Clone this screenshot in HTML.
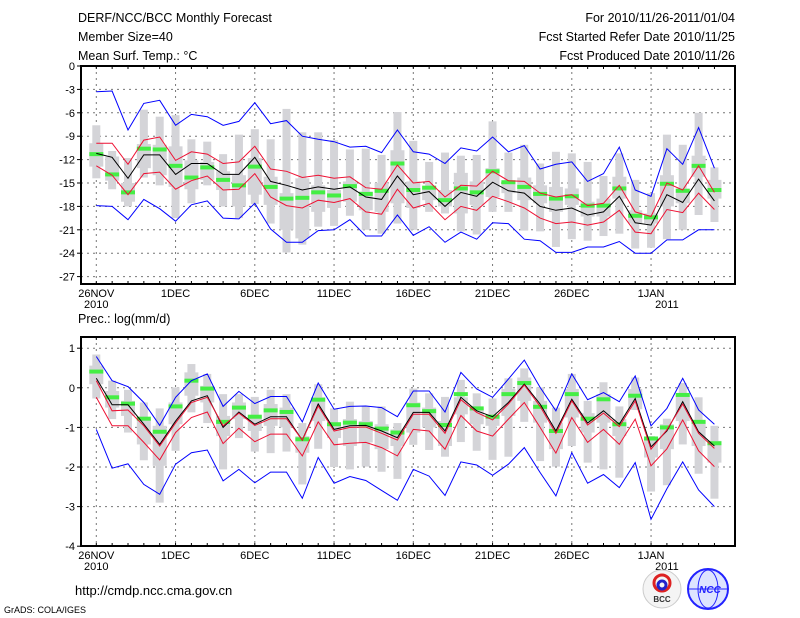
<!DOCTYPE html>
<html><head><meta charset="utf-8"><style>
html,body{margin:0;padding:0;background:#fff;}
svg{display:block;font-family:"Liberation Sans",sans-serif;}
</style></head><body>
<svg id="chart" width="800" height="618" viewBox="0 0 800 618">
<g font-size="12.5" fill="#000">
<text x="78" y="22">DERF/NCC/BCC Monthly Forecast</text>
<text x="78" y="41">Member Size=40</text>
<text x="78" y="60">Mean Surf. Temp.: °C</text>
<text x="735" y="22" text-anchor="end">For 2010/11/26-2011/01/04</text>
<text x="735" y="41" text-anchor="end">Fcst Started Refer Date 2010/11/25</text>
<text x="735" y="60" text-anchor="end">Fcst Produced Date 2010/11/26</text>
<text x="78" y="323">Prec.: log(mm/d)</text>
</g>
<g id="p1"></g>
<g id="p2"></g>
<text x="75" y="595" font-size="13">http://cmdp.ncc.cma.gov.cn</text>
<text x="4" y="613" font-size="9">GrADS: COLA/IGES</text>
<g>
<circle cx="662" cy="589" r="19" fill="#f4f4f4" stroke="#ccc"/>
<circle cx="662" cy="583" r="8" fill="none" stroke="#d22" stroke-width="3"/>
<circle cx="662" cy="585" r="4" fill="none" stroke="#22c" stroke-width="3"/>
<text x="662" y="602" font-size="8" text-anchor="middle" font-weight="bold" fill="#333">BCC</text>
</g>
<g>
<circle cx="708" cy="589" r="20" fill="#dde4ff" stroke="#22f" stroke-width="2"/>
<ellipse cx="708" cy="589" rx="10" ry="19" fill="none" stroke="#22f"/>
<line x1="689" y1="589" x2="727" y2="589" stroke="#22f"/>
<text x="710" y="593" font-size="10" text-anchor="middle" font-style="italic" font-weight="bold" fill="#22f">NCC</text>
</g>
</svg>
<script>
// ---- temperature data (degC), days 0..39 from 26NOV ----
const days = ['26NOV','1DEC','6DEC','11DEC','16DEC','21DEC','26DEC','1JAN'];
const tTicks = [0,-3,-6,-9,-12,-15,-18,-21,-24,-27];
const tBlueHi = [-3.3,-3.2,-8.2,-4.8,-4.4,-7.6,-6.2,-6.5,-7.6,-7.1,-4.7,-7.4,-7.0,-9.0,-9.4,-9.7,-10.4,-10.3,-11.1,-8.2,-11.0,-11.3,-12.5,-10.5,-10.9,-9.1,-11.0,-10.2,-13.2,-12.6,-12.3,-14.8,-13.8,-10.4,-15.9,-16.7,-10.6,-12.6,-7.9,-13.1];
const tRedHi = [-9.9,-9.9,-12.6,-9.5,-9.1,-12.1,-11.0,-11.3,-12.5,-12.3,-10.3,-13.2,-13.5,-14.3,-14.0,-14.4,-14.2,-15.6,-15.8,-12.7,-15.0,-14.8,-16.8,-15.3,-15.4,-13.5,-14.7,-14.8,-16.3,-16.8,-16.5,-17.9,-17.6,-15.3,-18.7,-19.3,-15.0,-15.9,-12.8,-16.2];
const tMean = [-11.2,-11.7,-14.4,-11.4,-11.4,-13.9,-12.5,-12.5,-13.9,-13.9,-11.7,-14.8,-15.3,-15.9,-15.5,-15.8,-15.5,-16.8,-17.1,-14.1,-16.5,-16.1,-18.0,-16.2,-16.7,-14.9,-16.0,-16.3,-18.0,-18.5,-18.2,-19.1,-18.7,-16.7,-20.1,-20.4,-16.5,-17.5,-14.5,-17.3];
const tRedLo = [-12.8,-14.0,-16.5,-13.8,-13.6,-15.8,-14.7,-14.1,-15.9,-15.8,-13.8,-16.8,-17.9,-18.2,-17.2,-17.5,-17.0,-18.7,-19.0,-15.8,-18.2,-17.6,-19.7,-18.0,-18.5,-16.7,-17.4,-18.2,-19.5,-20.2,-20.0,-20.4,-20.0,-18.5,-21.3,-21.5,-18.4,-18.8,-16.3,-18.4];
const tBlueLo = [-17.9,-18.0,-19.7,-17.1,-18.3,-19.9,-17.8,-17.3,-19.5,-19.6,-17.6,-20.9,-22.6,-22.6,-21.1,-21.0,-19.7,-21.8,-21.8,-19.1,-21.7,-20.6,-22.6,-21.3,-22.2,-20.1,-20.2,-22.2,-22.4,-23.9,-23.9,-23.2,-23.2,-22.5,-24.0,-24.0,-22.3,-22.3,-21.0,-21.0];
const tGreen = [-11.3,-13.9,-16.2,-10.6,-10.7,-12.8,-14.3,-13.0,-14.6,-15.3,-12.9,-15.5,-17.0,-16.9,-16.2,-16.6,-15.4,-16.4,-16.0,-12.5,-15.9,-15.6,-17.2,-15.7,-16.2,-13.5,-14.9,-15.5,-16.4,-17.0,-16.7,-17.9,-17.9,-15.7,-19.2,-19.4,-15.1,-16.0,-12.8,-15.9];
const tMax = [-7.6,-10.9,-11.8,-5.6,-6.5,-6.3,-9.4,-9.7,-11.3,-8.8,-8.1,-9.4,-5.5,-8.5,-8.5,-9.5,-10.7,-10.6,-11.4,-5.9,-9.6,-12.3,-11.1,-11.5,-11.4,-7.1,-11.1,-10.1,-12.5,-11.0,-11.2,-12.3,-14.1,-11.2,-14.6,-16.3,-8.8,-10.1,-6.0,-13.0];
const tMin = [-14.4,-15.8,-18.0,-14.3,-15.3,-19.5,-17.6,-15.3,-18.0,-19.5,-17.7,-20.2,-23.9,-22.9,-20.6,-20.5,-19.2,-21.0,-21.5,-20.2,-21.0,-18.7,-18.9,-21.2,-21.6,-18.7,-18.7,-21.1,-21.2,-23.2,-22.2,-22.4,-21.8,-21.5,-23.4,-23.3,-22.2,-21.0,-19.1,-20.0];
const tQ3 = [-9.9,-11.6,-15.0,-10.0,-10.1,-10.3,-12.1,-12.3,-13.5,-14.0,-11.8,-14.2,-16.3,-14.4,-15.3,-15.9,-14.8,-16.1,-15.0,-10.8,-14.8,-15.5,-15.9,-13.7,-14.8,-13.1,-14.8,-14.3,-15.3,-15.5,-15.7,-17.4,-17.0,-14.2,-18.5,-18.9,-14.0,-15.7,-11.5,-14.6];
const tQ1 = [-12.9,-14.7,-17.4,-13.1,-14.0,-15.5,-15.8,-14.6,-15.9,-18.0,-16.5,-17.8,-21.0,-22.1,-18.7,-18.2,-17.4,-18.5,-18.7,-17.6,-18.2,-17.2,-18.0,-18.9,-17.8,-16.8,-16.3,-17.2,-17.6,-18.7,-17.8,-19.3,-19.3,-17.0,-20.2,-20.2,-18.0,-17.6,-14.2,-17.0];
// ---- precipitation data (log mm/d) ----
const pTicks = [1,0,-1,-2,-3,-4];
const pBlueHi = [0.79,0.18,0.03,-0.37,-0.95,-0.24,0.18,0.35,-0.47,-0.09,-0.40,-0.22,-0.22,-0.86,0.12,-0.54,-0.47,-0.46,-0.50,-0.73,-0.08,-0.08,-0.61,0.39,-0.03,-0.24,0.22,0.70,0.01,-0.58,0.35,-0.30,-0.12,-0.35,0.30,-0.96,-0.52,0.24,-0.56,-0.92];
const pMean = [0.24,-0.43,-0.43,-0.92,-1.43,-0.84,-0.33,-0.20,-1.00,-0.61,-0.92,-0.73,-0.73,-1.32,-0.41,-1.05,-0.96,-0.95,-1.09,-1.26,-0.62,-0.62,-1.09,-0.24,-0.58,-0.73,-0.37,0.09,-0.41,-1.09,-0.29,-0.89,-0.58,-0.92,-0.27,-1.49,-1.09,-0.35,-1.11,-1.47];
const pRedHi = [0.18,-0.58,-0.56,-0.96,-1.47,-0.89,-0.37,-0.24,-0.96,-0.64,-0.95,-0.78,-0.78,-1.32,-0.46,-1.09,-1.00,-0.99,-1.15,-1.32,-0.67,-0.67,-1.15,-0.30,-0.62,-0.81,-0.41,0.07,-0.47,-1.15,-0.33,-0.94,-0.64,-0.98,-0.33,-1.55,-1.06,-0.41,-1.15,-1.53];
const pRedLo = [-0.24,-0.96,-0.96,-1.38,-1.82,-1.13,-0.75,-0.61,-1.41,-1.02,-1.36,-1.17,-1.17,-1.72,-0.86,-1.44,-1.40,-1.38,-1.51,-1.72,-1.05,-1.09,-1.55,-0.70,-1.09,-1.22,-0.79,-0.37,-1.00,-1.65,-0.75,-1.38,-1.05,-1.43,-0.79,-1.97,-1.54,-0.81,-1.59,-1.99];
const pBlueLo = [-1.05,-2.03,-1.92,-2.44,-2.69,-1.93,-1.64,-1.57,-2.35,-2.06,-2.40,-2.13,-2.13,-2.79,-1.76,-2.41,-2.24,-2.34,-2.59,-2.84,-2.06,-2.23,-2.72,-1.87,-1.95,-2.21,-1.93,-1.51,-2.14,-2.73,-1.64,-2.41,-2.19,-2.52,-1.89,-3.32,-2.55,-1.87,-2.58,-3.00];
const pGreen = [0.41,-0.24,-0.40,-0.78,-1.11,-0.47,0.18,-0.02,-0.86,-0.50,-0.73,-0.57,-0.61,-1.30,-0.30,-0.92,-0.88,-0.92,-1.03,-1.13,-0.44,-0.59,-0.94,-0.16,-0.52,-0.73,-0.16,0.12,-0.48,-1.09,-0.16,-0.78,-0.29,-0.92,-0.20,-1.28,-1.00,-0.18,-0.86,-1.40];
const pMax = [0.84,0.18,-0.05,-0.37,-0.52,0.01,0.60,0.35,-0.16,-0.16,-0.23,-0.05,-0.16,-0.89,0.09,-0.52,-0.35,-0.47,-0.47,-0.89,-0.02,-0.14,-0.23,0.20,-0.14,-0.27,0.24,0.49,0.01,-0.50,0.35,-0.33,0.14,-0.47,0.26,-1.22,-0.78,0.12,-0.24,-0.96];
const pMin = [-0.27,-0.79,-1.13,-1.83,-2.90,-1.59,-0.62,-0.89,-2.06,-1.27,-1.61,-1.65,-1.61,-2.44,-1.54,-2.00,-2.06,-1.99,-2.12,-2.30,-1.44,-1.57,-1.74,-1.37,-1.59,-1.82,-1.74,-0.86,-1.85,-1.99,-1.47,-1.89,-2.06,-2.27,-0.56,-2.62,-2.46,-1.43,-2.17,-2.80];
const pQ3 = [0.56,-0.08,-0.33,-0.79,-0.96,-0.37,0.39,0.05,-0.71,-0.37,-0.71,-0.41,-0.50,-1.22,-0.24,-0.89,-0.79,-0.84,-0.92,-1.05,-0.37,-0.50,-0.84,-0.24,-0.50,-0.71,-0.03,0.26,-0.33,-0.88,-0.03,-0.64,-0.16,-0.79,-0.03,-1.30,-0.92,-0.20,-0.84,-1.34];
const pQ1 = [0.09,-0.50,-0.71,-1.43,-1.97,-0.92,-0.20,-0.37,-1.22,-0.79,-1.09,-0.96,-1.00,-1.64,-0.84,-1.27,-1.47,-1.38,-1.55,-1.47,-1.13,-1.00,-1.47,-0.67,-0.92,-0.96,-0.71,-0.33,-0.88,-1.55,-0.75,-1.13,-0.88,-1.22,-0.54,-1.76,-1.55,-0.84,-1.47,-1.89];

const NS='http://www.w3.org/2000/svg';
const X0=81, X1=735;
function xd(d){return 96.3+15.85*d;}
function mk(parent,tag,attrs){const e=document.createElementNS(NS,tag);for(const k in attrs)e.setAttribute(k,attrs[k]);parent.appendChild(e);return e;}

function panel(g,top,bot,yf,ticks,maxv,minv,q3,q1,green,lines,labelY){
  ticks.forEach(v=>{const y=yf(v);
    if(y>top+1&&y<bot-1){const l=mk(g,'line',{x1:X0,x2:X1,y1:y,y2:y,stroke:'#777','stroke-dasharray':'2,4','stroke-width':1});
    
    }
    const t=mk(g,'line',{x1:X0-4,x2:X0,y1:y,y2:y,stroke:'#000'});
    
    
    const lb=mk(g,'text',{x:X0-6,y:y+4,'text-anchor':'end','font-size':11});
    lb.textContent=String(v);
    
    
  });
  days.forEach((s,i)=>{const x=xd(i*5);
    const l=mk(g,'line',{x1:x,x2:x,y1:top,y2:bot,stroke:'#777','stroke-dasharray':'2,4'});
    
    
    const lb=mk(g,'text',{x:x,y:labelY,'text-anchor':'middle','font-size':11});
    lb.textContent=s;
    
    
  });
  for(let d=0;d<40;d++){const x=xd(d);
    const a=mk(g,'line',{x1:x,x2:x,y1:bot,y2:bot-3,stroke:'#000'});
    
    
    const b=mk(g,'line',{x1:x,x2:x,y1:top,y2:top+3,stroke:'#000'});
    
    
  }
  const y1=mk(g,'text',{x:xd(0),y:labelY+11,'text-anchor':'middle','font-size':11});y1.textContent='2010';
  
  
  const y2=mk(g,'text',{x:xd(36),y:labelY+11,'text-anchor':'middle','font-size':11});y2.textContent='2011';
  
  
  for(let d=0;d<40;d++){const x=xd(d);
    const r=mk(g,'rect',{x:x-4,y:yf(maxv[d]),width:8,height:yf(minv[d])-yf(maxv[d]),fill:'#d4d4d8'});
    
    
    const b=mk(g,'rect',{x:x-7,y:yf(q3[d]),width:14,height:yf(q1[d])-yf(q3[d]),fill:'#d4d4d8'});
    
    
  }
  for(let d=0;d<40;d++){const x=xd(d);
    const m=mk(g,'rect',{x:x-7,y:yf(green[d])-2,width:14,height:4,fill:'#44ee44'});
    
    
  }
  lines.forEach(([arr,col,name])=>{
    const p=mk(g,'polyline',{points:arr.map((v,d)=>xd(d).toFixed(1)+','+yf(v).toFixed(1)).join(' '),fill:'none',stroke:col,'stroke-width':1});
    
    
  });
  const f=mk(g,'rect',{x:X0,y:top,width:X1-X0,height:bot-top,fill:'none',stroke:'#000','stroke-width':2});
  
  
}
const yT=v=>66-v*7.8;
const yP=v=>387.8-v*39.6;
panel(document.getElementById('p1'),66,284,yT,tTicks,tMax,tMin,tQ3,tQ1,tGreen,
 [[tBlueHi,'#0000ff','temp-upper-bound'],[tBlueLo,'#0000ff','temp-lower-bound'],[tRedHi,'#ee1133','temp-upper-spread'],[tRedLo,'#ee1133','temp-lower-spread'],[tMean,'#000','temp-ensemble-mean']],297);
panel(document.getElementById('p2'),337,546,yP,pTicks,pMax,pMin,pQ3,pQ1,pGreen,
 [[pBlueHi,'#0000ff','prec-upper-bound'],[pBlueLo,'#0000ff','prec-lower-bound'],[pRedLo,'#ee1133','prec-lower-spread'],[pMean,'#000','prec-ensemble-mean'],[pRedHi,'#ee1133','prec-upper-spread']],559);
</script>
</body></html>
